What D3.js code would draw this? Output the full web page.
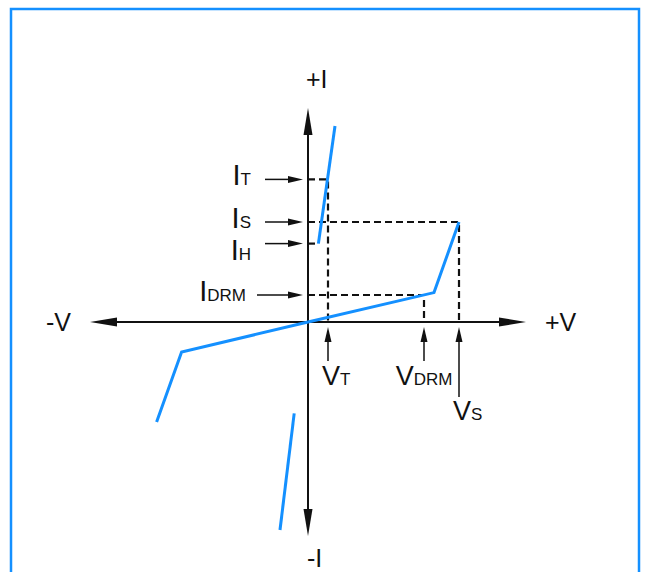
<!DOCTYPE html>
<html>
<head>
<meta charset="utf8">
<style>
  body { margin: 0; background: #fff; }
  text { font-family: "Liberation Sans", Arial, sans-serif; fill: #111; }
</style>
</head>
<body>
<div id="canvas"></div>
<script src="https://cdn.jsdelivr.net/npm/d3@7"></script>
<script>
// current levels marked on the +I side
const currentNames = ["T", "S", "H", "DRM"];
const currentValues = [7.13, 5.0, 3.92, 1.35];
// voltage levels marked under the +V axis
const voltageNames = ["T", "DRM", "S"];
const voltageValues = [1.0, 5.8, 7.55];
// the curve pieces (V, I)
const onStateCurve = [[0.52, 3.92], [1.35, 9.8]];
const blockingCurve = [[0, 0], [6.3, 1.47], [7.55, 5.0]];
const reverseCurve = [[0, 0], [-6.32, -1.5], [-7.57, -5.0]];
const negOnCurve = [[-0.69, -4.57], [-1.4, -10.4]];

const W = 646, H = 572;
const blue = "#1490ff";

const svg = d3.select("#canvas").append("svg")
  .attr("width", W)
  .attr("height", H)
  .attr("viewBox", `0 0 ${W} ${H}`);

var x = d3.scaleLinear().domain([-10.9, 10.9]).range([90, 526]);
var y = d3.scaleLinear().domain([-10.7, 10.7]).range([536, 108]);

// frame
svg.append("rect")
  .attr("x", 11).attr("y", 9)
  .attr("width", 628).attr("height", 620)
  .attr("fill", "none")
  .attr("stroke", blue)
  .attr("stroke-width", 2.5);

const x0 = x(0), y0 = y(0);

// axes
svg.append("line").attr("x1", x.range()[0] + 20).attr("x2", x.range()[1] - 20)
  .attr("y1", y0).attr("y2", y0).attr("stroke", "#111").attr("stroke-width", 2);
svg.append("line").attr("y1", y.range()[1] + 20).attr("y2", y.range()[0] - 20)
  .attr("x1", x0).attr("x2", x0).attr("stroke", "#111").attr("stroke-width", 2);

function head(tx, ty, dx, dy, len, hw) {
  // arrow head with tip at (tx,ty), pointing along (dx,dy)
  const bx = tx - dx * len, by = ty - dy * len;
  const px = -dy * hw, py = dx * hw;
  svg.append("path")
    .attr("d", `M${tx},${ty}L${bx + px},${by + py}L${bx - px},${by - py}Z`)
    .attr("fill", "#111");
}
head(x.range()[1], y0, 1, 0, 27, 4.5);
head(x.range()[0], y0, -1, 0, 27, 4.5);
head(x0, y.range()[1], 0, -1, 27, 4.5);
head(x0, y.range()[0], 0, 1, 27, 4.5);

// axis labels
svg.append("text").attr("x", x0 - 2).attr("y", 88).attr("font-size", 25).text("+I");
svg.append("text").attr("x", x0 - 1).attr("y", 567).attr("font-size", 25).text("-I");
svg.append("text").attr("x", 46).attr("y", 331).attr("font-size", 25).text("-V");
svg.append("text").attr("x", 545).attr("y", 331).attr("font-size", 25).text("+V");

// dashed guide lines
const dash = g => g.attr("stroke", "#111").attr("stroke-width", 2.2).attr("stroke-dasharray", "7,4").attr("fill", "none");
const guide = d3.line().x(d => x(d[0])).y(d => y(d[1]));
const guides = [
  [[0, currentValues[0]], [voltageValues[0], currentValues[0]], [voltageValues[0], 0]],
  [[0, currentValues[1]], [voltageValues[2], currentValues[1]], [voltageValues[2], 0]],
  [[0, currentValues[3]], [voltageValues[1], currentValues[3]], [voltageValues[1], 0]],
  [[0, currentValues[2]], [onStateCurve[0][0], currentValues[2]]]
];
guides.forEach(g => svg.append("path").attr("d", guide(g)).call(dash));

// blue curve
const curve = d3.line().x(d => x(d[0])).y(d => y(d[1]));
[onStateCurve, blockingCurve, reverseCurve, negOnCurve].forEach(c => {
  svg.append("path").attr("d", curve(c))
    .attr("fill", "none").attr("stroke", blue)
    .attr("stroke-width", 3).attr("stroke-linejoin", "miter");
});

// current labels with arrows
currentNames.forEach((n, i) => {
  const yy = y(currentValues[i]);
  const start = n.length > 1 ? x0 - 51 : x0 - 43;
  svg.append("line").attr("x1", start).attr("x2", x0 - 14)
    .attr("y1", yy).attr("y2", yy).attr("stroke", "#111").attr("stroke-width", 1.5);
  head(x0 - 5, yy, 1, 0, 15, 3.5);
  // I_H sits lower so it clears I_S
  const t = svg.append("text")
    .attr("x", n.length > 1 ? start - 11 : start - 14)
    .attr("y", yy + (n === "H" ? 16 : 6))
    .attr("text-anchor", "end")
    .attr("font-size", 29)
    .text("I");
  t.append("tspan").attr("font-size", 17).text(n);
});

// voltage labels with arrows
voltageNames.forEach((n, i) => {
  const xx = x(voltageValues[i]);
  const low = n === "S" ? y0 + 75 : y0 + 39;
  svg.append("line").attr("x1", xx).attr("x2", xx)
    .attr("y1", low).attr("y2", y0 + 14).attr("stroke", "#111").attr("stroke-width", 1.5);
  head(xx, y0 + 5, 0, -1, 15, 3.5);
  const t = svg.append("text")
    .attr("x", n.length > 1 ? xx : xx - 6)
    .attr("y", n === "S" ? y0 + 98 : y0 + 63)
    .attr("text-anchor", n.length > 1 ? "middle" : "start")
    .attr("font-size", 27)
    .text("V");
  t.append("tspan").attr("font-size", 17).text(n);
});
</script>
</body>
</html>
